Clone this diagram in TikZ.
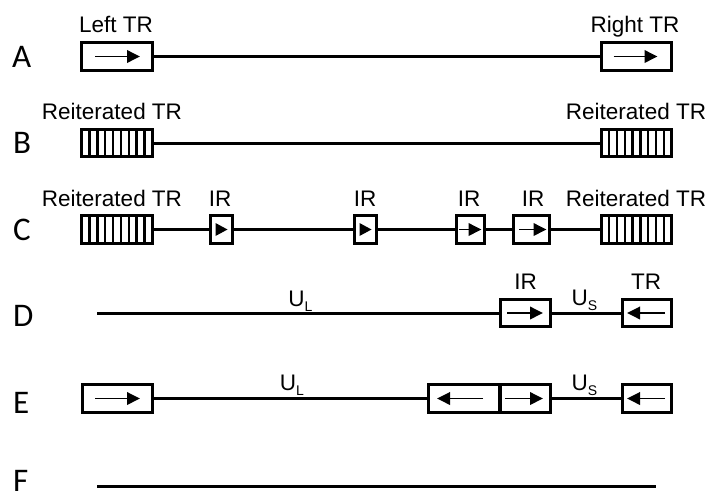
\documentclass[tikz,border=0pt]{standalone}
\usepackage{fontspec}
\setmainfont{Liberation Sans}
\newfontfamily\rowfont{Carlito}
\usetikzlibrary{arrows.meta,calc}
\newcommand{\subl}[1]{\raisebox{-5pt}{\fontsize{14}{14}\selectfont #1}}
\begin{document}
\begin{tikzpicture}[x=1pt,y=-1pt,
  box/.style={draw, line width=3.4pt, fill=white, inner sep=0pt, minimum height=27.5pt},
  trbox/.style={box, minimum width=70.5pt},
  hatch/.style={trbox, path picture={
     \foreach \i in {1,...,8}{
       \draw[line width=2.2pt]
         ($(path picture bounding box.south west)!\i/9!(path picture bounding box.south east)$) --
         ($(path picture bounding box.north west)!\i/9!(path picture bounding box.north east)$);}}},
  dna/.style={line width=3pt},
  lab/.style={font=\fontsize{22.5}{22.5}\selectfont, anchor=base, inner sep=0pt},
  rowlab/.style={font=\rowfont\fontsize{33}{33}\selectfont, anchor=base west, inner sep=0pt},
  arr/.style={line width=1.9pt, -{Triangle[length=13pt,width=12.5pt]}},
]
\useasboundingbox (0,0) rectangle (709,498);

% Row letters
\node[rowlab] (rA) at (12,67) {A};
\node[rowlab] (rB) at (13,153) {B};
\node[rowlab] (rC) at (13,240) {C};
\node[rowlab] (rD) at (13,326) {D};
\node[rowlab] (rE) at (13,413) {E};
\node[rowlab] (rF) at (13,491) {F};

% Row A
\node[trbox] (a1) at (117,56.5) {};
\node[trbox] (a2) at (636.5,56.5) {};
\draw[dna] (a1.east) -- (a2.west);
\draw[arr] ($(a1)+(-22,0)$) -- ($(a1)+(23,0)$);
\draw[arr] ($(a2)+(-23,0)$) -- ($(a2)+(21,0)$);
\node[lab] (la1) at (116,32) {Left TR};
\node[lab] (la2) at (635,32) {Right TR};

% Row B
\node[hatch] (b1) at (117,143) {};
\node[hatch] (b2) at (636.5,143) {};
\draw[dna] (b1.east) -- (b2.west);
\node[lab] (lb1) at (112,119) {Reiterated TR};
\node[lab] (lb2) at (636,119) {Reiterated TR};

% Row C
\node[hatch] (c1) at (117,229.5) {};
\node[box, minimum width=22pt] (ir1) at (221.5,229.5) {};
\node[box, minimum width=22pt] (ir2) at (365.5,229.5) {};
\node[box, minimum width=28pt] (ir3) at (470.5,229.5) {};
\node[box, minimum width=36pt] (ir4) at (531.5,229.5) {};
\node[hatch] (c2) at (636.5,229.5) {};
\draw[dna] (c1.east) -- (ir1.west);
\draw[dna] (ir1.east) -- (ir2.west);
\draw[dna] (ir2.east) -- (ir3.west);
\draw[dna] (ir3.east) -- (ir4.west);
\draw[dna] (ir4.east) -- (c2.west);
\fill ($(ir1)+(-6,-6.5)$) -- ($(ir1)+(6,0)$) -- ($(ir1)+(-6,6.5)$) -- cycle;
\fill ($(ir2)+(-6,-6.5)$) -- ($(ir2)+(6,0)$) -- ($(ir2)+(-6,6.5)$) -- cycle;
\draw[arr] ($(ir3)+(-11.5,0)$) -- ($(ir3)+(11,0)$);
\draw[arr] ($(ir4)+(-12.5,0)$) -- ($(ir4)+(15,0)$);
\node[lab] (lc1) at (112,206.5) {Reiterated TR};
\node[lab] (lc2) at (220,206.5) {IR};
\node[lab] (lc3) at (365,206.5) {IR};
\node[lab] (lc4) at (469,206.5) {IR};
\node[lab] (lc5) at (533,206.5) {IR};
\node[lab] (lc6) at (636,206.5) {Reiterated TR};

% Row D
\coordinate (d0) at (97,313);
\node[box, minimum width=50pt] (ird) at (525.5,313) {};
\node[box, minimum width=49pt] (trd) at (647,313) {};
\draw[dna] (d0) -- (ird.west);
\draw[dna] (ird.east) -- (trd.west);
\draw[arr] ($(ird)+(-18.5,0)$) -- ($(ird)+(17.5,0)$);
\draw[arr] ($(trd)+(18,0)$) -- ($(trd)+(-20,0)$);
\node[lab] (ld1) at (525.5,289) {IR};
\node[lab] (ld2) at (646,289) {TR};
\node[lab] (ld3) at (300.5,306) {U\subl{L}};
\node[lab] (ld4) at (584.5,305) {U\subl{S}};

% Row E
\node[trbox] (e1) at (117.5,398.5) {};
\node[box, minimum width=71.5pt] (el) at (464.25,398.5) {};
\node[box, minimum width=50.5pt] (er) at (525.25,398.5) {};
\node[box, minimum width=49pt] (tre) at (647,398.5) {};
\draw[dna] (e1.east) -- (el.west);
\draw[dna] (er.east) -- (tre.west);
\draw[arr] ($(e1)+(-22.5,0)$) -- ($(e1)+(22.5,0)$);
\draw[arr] ($(el)+(18.75,0)$) -- ($(el)+(-27.25,0)$);
\draw[arr] ($(er)+(-20.25,0)$) -- ($(er)+(17.75,0)$);
\draw[arr] ($(tre)+(18,0)$) -- ($(tre)+(-20,0)$);
\node[lab] (le1) at (292,390) {U\subl{L}};
\node[lab] (le2) at (584.5,390) {U\subl{S}};

% Row F
\coordinate (f0) at (97,486.5);
\coordinate (f1) at (656,486.5);
\draw[dna] (f0) -- (f1);
\end{tikzpicture}
\end{document}
